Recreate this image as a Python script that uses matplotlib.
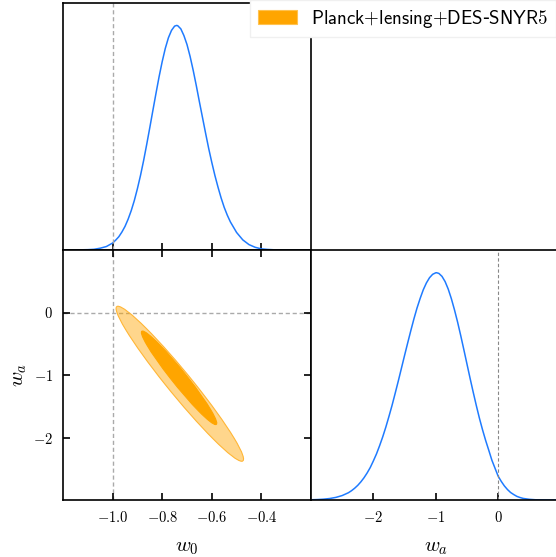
import numpy as np
import matplotlib
matplotlib.use("Agg")
import matplotlib.pyplot as plt
from matplotlib.patches import Ellipse, Patch

plt.rcParams["mathtext.fontset"] = "cm"

# ---------------- data ----------------
w0_grid = [-1.20, -1.15, -1.10, -1.075, -1.05, -1.025, -1.00, -0.9875, -0.975, -0.9625,
           -0.95, -0.9375, -0.925, -0.9125, -0.90, -0.8875, -0.875, -0.8625, -0.85,
           -0.8375, -0.825, -0.8125, -0.80, -0.7875, -0.775, -0.7625, -0.75, -0.742,
           -0.7375, -0.725, -0.7125, -0.70, -0.6875, -0.675, -0.6625, -0.65, -0.6375,
           -0.625, -0.6125, -0.60, -0.5875, -0.575, -0.5625, -0.55, -0.5375, -0.525,
           -0.50, -0.475, -0.45, -0.425, -0.40, -0.375, -0.35, -0.30, -0.20]
w0_density = [0.000, 0.0003, 0.0015, 0.0031, 0.008, 0.0155, 0.031, 0.044, 0.059, 0.080,
              0.105, 0.137, 0.175, 0.220, 0.273, 0.332, 0.398, 0.470, 0.545,
              0.622, 0.698, 0.772, 0.839, 0.898, 0.945, 0.978, 0.997, 1.000,
              0.999, 0.985, 0.955, 0.915, 0.862, 0.800, 0.732, 0.660, 0.590,
              0.520, 0.452, 0.390, 0.332, 0.280, 0.232, 0.190, 0.155, 0.125,
              0.078, 0.045, 0.024, 0.012, 0.005, 0.0025, 0.001, 0.000, 0.000]

wa_grid = [-3.0, -2.9, -2.8, -2.7, -2.6, -2.5, -2.4, -2.35, -2.3, -2.25, -2.2, -2.15,
           -2.1, -2.05, -2.0, -1.95, -1.9, -1.85, -1.8, -1.75, -1.7, -1.65, -1.6, -1.55,
           -1.5, -1.45, -1.4, -1.35, -1.3, -1.25, -1.2, -1.15, -1.1, -1.05, -1.0, -0.986,
           -0.95, -0.9, -0.85, -0.8, -0.75, -0.7, -0.65, -0.6, -0.55, -0.5, -0.45, -0.4,
           -0.35, -0.3, -0.25, -0.2, -0.15, -0.1, -0.05, 0.0, 0.05, 0.1, 0.15, 0.2, 0.25,
           0.3, 0.35, 0.4, 0.45, 0.5, 0.55, 0.6, 0.7, 0.8, 1.0]
wa_density = [0.001, 0.0019, 0.0036, 0.0065, 0.0115, 0.0196, 0.032, 0.041, 0.0518, 0.0646,
              0.080, 0.098, 0.119, 0.143, 0.172, 0.203, 0.239, 0.278, 0.321, 0.368,
              0.417, 0.470, 0.524, 0.580, 0.636, 0.691, 0.745, 0.797, 0.845, 0.887,
              0.925, 0.955, 0.978, 0.993, 0.9997, 1.000, 0.997, 0.984, 0.961, 0.928,
              0.886, 0.837, 0.783, 0.724, 0.662, 0.599, 0.536, 0.475, 0.416, 0.360,
              0.309, 0.262, 0.219, 0.175, 0.140, 0.105, 0.082, 0.062, 0.046, 0.033,
              0.024, 0.016, 0.011, 0.007, 0.005, 0.003, 0.002, 0.001, 0.0005, 0.000,
              0.000]

# 2D contours: [95%, 68%]
contour_w0_center = [-0.729, -0.732]
contour_wa_center = [-1.14, -1.045]
contour_w0_halfextent = [0.257, 0.152]
contour_wa_halfextent = [1.24, 0.748]
contour_corr = [-0.971, -0.970]

w0_ticks = [-1.0, -0.8, -0.6, -0.4]
w0_ticklabels = [r"$-1.0$", r"$-0.8$", r"$-0.6$", r"$-0.4$"]
wa_ticks_2d = [0, -1, -2]
wa_ticklabels_2d = [r"$0$", r"$-1$", r"$-2$"]
wa_ticks_1d = [-2, -1, 0]
wa_ticklabels_1d = [r"$-2$", r"$-1$", r"$0$"]

legend_label = r"$\mathsf{Planck{+}lensing{+}DES}$-$\mathsf{SNYR5}$"

w0_lim = (-1.2, -0.2)
wa_lim = (-3.0, 1.0)
ref_w0 = -1.0
ref_wa = 0.0

# ---------------- style ----------------
blue = "#1f7bff"
orange = "#ffa500"
tick_fs = 10.5

W, H = 556, 557
fig = plt.figure(figsize=(W / 100, H / 100), dpi=100)

def fr(x0, y0, x1, y1):
    return [x0 / W, 1 - y1 / H, (x1 - x0) / W, (y1 - y0) / H]

ax1 = fig.add_axes(fr(63, 3, 311, 250))
ax2 = fig.add_axes(fr(63, 250, 311, 500))
ax3 = fig.add_axes(fr(311, 250, 560.5, 500))

for ax in (ax1, ax2, ax3):
    for s in ax.spines.values():
        s.set_linewidth(1.2)

# top-left: w0 1D
ax1.plot(w0_grid, w0_density, color=blue, lw=1.1)
ax1.axvline(ref_w0, color="#aaaaaa", ls="--", lw=1.0, dashes=(3, 2))
ax1.set_xlim(*w0_lim)
ax1.set_ylim(0, 1.1)
ax1.set_yticks([])
ax1.set_xticks(w0_ticks)
ax1.set_xticklabels([])
ax1.tick_params(axis="x", direction="in", length=5, width=1.2, bottom=True, top=False)

# bottom-left: 2D
for i, (fc, ec) in enumerate([((1, 0.647, 0, 0.45), "#ffb636"), (orange, orange)]):
    a = contour_w0_halfextent[i]
    b = contour_wa_halfextent[i]
    r = contour_corr[i]
    M = np.array([[a * a, r * a * b], [r * a * b, b * b]])
    vals, vecs = np.linalg.eigh(M)
    j = np.argmax(vals)
    ang = np.degrees(np.arctan2(vecs[1, j], vecs[0, j]))
    e = Ellipse((contour_w0_center[i], contour_wa_center[i]),
                width=2 * np.sqrt(vals[j]), height=2 * np.sqrt(vals[1 - j]),
                angle=ang, facecolor=fc, edgecolor=ec, lw=0.8, zorder=2)
    ax2.add_patch(e)
ax2.axvline(ref_w0, color="#aaaaaa", ls="--", lw=1.0, dashes=(3, 2), zorder=1)
ax2.axhline(ref_wa, color="#aaaaaa", ls="--", lw=1.0, dashes=(3, 2), zorder=1)
ax2.set_xlim(*w0_lim)
ax2.set_ylim(*wa_lim)
ax2.set_xticks(w0_ticks)
ax2.set_xticklabels(w0_ticklabels, fontsize=tick_fs)
ax2.set_yticks(wa_ticks_2d)
ax2.set_yticklabels(wa_ticklabels_2d, fontsize=tick_fs)
ax2.tick_params(direction="in", length=5, width=1.2, top=True, right=True, pad=7)
ax2.set_xlabel(r"$w_0$", fontsize=15, labelpad=9)
ax2.set_ylabel(r"$w_a$", fontsize=15, labelpad=3)

# bottom-right: wa 1D
ax3.plot(wa_grid, wa_density, color=blue, lw=1.1)
ax3.axvline(ref_wa, color="#888888", ls="--", lw=0.8, dashes=(3, 2))
ax3.set_xlim(*wa_lim)
ax3.set_ylim(0, 1.1)
ax3.set_yticks([])
ax3.set_xticks(wa_ticks_1d)
ax3.set_xticklabels(wa_ticklabels_1d, fontsize=tick_fs)
ax3.tick_params(axis="x", direction="in", length=5, width=1.2, pad=7)
ax3.set_xlabel(r"$w_a$", fontsize=15, labelpad=9)

handle = Patch(facecolor=orange, edgecolor="#ffc24f", lw=0.8)
leg = fig.legend([handle], [legend_label], loc="upper right",
                 bbox_to_anchor=(1.0, 1.0), fontsize=13.6, frameon=True,
                 fancybox=False, edgecolor="#f0f0f0", framealpha=1.0,
                 handlelength=2.1, handleheight=0.8, handletextpad=0.74,
                 borderaxespad=0.0, borderpad=0.4)

fig.savefig("out.png", dpi=100)
